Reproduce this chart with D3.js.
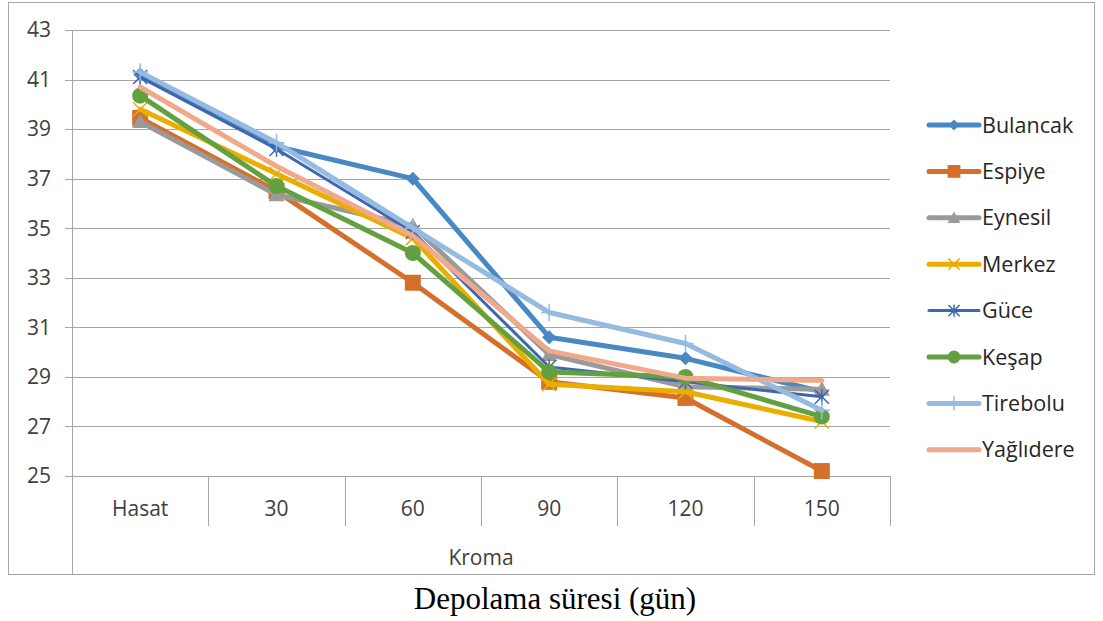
<!DOCTYPE html>
<html><head><meta charset="utf-8">
<script src="https://cdn.jsdelivr.net/npm/d3@7"></script>
<style>body{margin:0;background:#fff}svg{display:block}</style>
</head><body><svg id="c" width="1103" height="621"></svg>
<script>
const categories = ["Hasat","30","60","90","120","150"];
const yTicks = [25,27,29,31,33,35,37,39,41,43];
const seriesNames = ["Bulancak","Espiye","Eynesil","Merkez","Güce","Keşap","Tirebolu","Yağlıdere"];
const bulancak  = [41.2, 38.3, 37.0, 30.6, 29.75, 28.4];
const espiye    = [39.45, 36.5, 32.8, 28.8, 28.15, 25.2];
const eynesil   = [39.3, 36.35, 35.1, 29.9, 28.6, 28.5];
const merkez    = [39.8, 37.2, 34.6, 28.7, 28.4, 27.2];
const guce      = [41.1, 38.2, 34.85, 29.4, 28.8, 28.2];
const kesap     = [40.35, 36.7, 34.0, 29.2, 29.0, 27.4];
const tirebolu  = [41.3, 38.45, 35.0, 31.6, 30.35, 27.65];
const yaglidere = [40.7, 37.5, 34.7, 30.05, 28.95, 28.85];
const seriesValues = [bulancak, espiye, eynesil, merkez, guce, kesap, tirebolu, yaglidere];
const colors = ["#4a88c3","#d4702b","#9a9a9a","#e9ae00","#3d66b3","#62a040","#95bbe1","#f1a98c"];
const markers = ["diamond","square","triangle","x","star","circle","plus","none"];
const widths = [5,5,5,5,3,5,5,5];

const FONT = "'Open Sans', Lato, sans-serif";
const svg = d3.select("#c");
const L = 72, R = 890, T = 30, B = 476;
const x = d3.scaleBand().domain(categories).range([L, R]).padding(0);
const y = d3.scaleLinear().domain([25, 43]).range([B, T]);

// outer frame
svg.append("rect").attr("x",8.5).attr("y",2.5).attr("width",1086).attr("height",572)
  .attr("fill","none").attr("stroke","#a6a6a6").attr("stroke-width",1);

// gridlines
svg.append("g").selectAll("line").data(yTicks).join("line")
  .attr("x1", L - 7).attr("x2", R).attr("y1", d => Math.round(y(d))+0.5).attr("y2", d => Math.round(y(d))+0.5)
  .attr("stroke", "#a6a6a6").attr("stroke-width", 1);
svg.append("g").selectAll("text").data(yTicks).join("text")
  .attr("x", 51).attr("y", d => y(d)).attr("dy","0.35em").attr("text-anchor","end")
  .attr("font-family",FONT).attr("font-size",21).attr("fill","#404040")
  .text(d => d);

// vertical axis line
svg.append("line").attr("x1",L+0.5).attr("x2",L+0.5).attr("y1",T).attr("y2",575).attr("stroke","#a6a6a6");
// category dividers
const divs = categories.map(c => x(c) + x.bandwidth());
svg.append("g").selectAll("line").data(divs).join("line")
  .attr("x1", d => Math.round(d)+0.5).attr("x2", d => Math.round(d)+0.5).attr("y1", B).attr("y2", 526)
  .attr("stroke","#a6a6a6");
svg.append("g").selectAll("text").data(categories).join("text")
  .attr("x", d => x(d) + x.bandwidth()/2).attr("y", 509).attr("dy","0.35em").attr("text-anchor","middle")
  .attr("font-family",FONT).attr("font-size",21).attr("fill","#404040")
  .text(d => d);
svg.append("text").attr("x",(L+R)/2).attr("y",558).attr("dy","0.35em").attr("text-anchor","middle")
  .attr("font-family",FONT).attr("font-size",21).attr("fill","#404040").text("Kroma");
svg.append("text").attr("x",555).attr("y",598).attr("dy","0.35em").attr("text-anchor","middle")
  .attr("font-family","'Liberation Serif', 'Times New Roman', serif").attr("font-size",31).attr("fill","#000").text("Depolama süresi (gün)");

function drawMarker(g, type, cx, cy, color, scale) {
  const s = scale || 1;
  if (type === "diamond") {
    const r = 7*s;
    g.append("path").attr("d",`M${cx},${cy-r}L${cx+r},${cy}L${cx},${cy+r}L${cx-r},${cy}Z`).attr("fill",color);
  } else if (type === "square") {
    const r = 8*s;
    g.append("rect").attr("x",cx-r).attr("y",cy-r).attr("width",2*r).attr("height",2*r).attr("fill",color);
  } else if (type === "triangle") {
    const r = 8*s;
    g.append("path").attr("d",`M${cx},${cy-r}L${cx+r},${cy+r*0.8}L${cx-r},${cy+r*0.8}Z`).attr("fill",color);
  } else if (type === "x") {
    const r = 7*s;
    g.append("path").attr("d",`M${cx-r},${cy-r}L${cx+r},${cy+r}M${cx-r},${cy+r}L${cx+r},${cy-r}`).attr("stroke",color).attr("stroke-width",1.5);
  } else if (type === "star") {
    const r = 7*s;
    g.append("path").attr("d",`M${cx-r},${cy-r}L${cx+r},${cy+r}M${cx-r},${cy+r}L${cx+r},${cy-r}M${cx},${cy-r*1.1}L${cx},${cy+r*1.1}`).attr("stroke",color).attr("stroke-width",1.5);
  } else if (type === "circle") {
    g.append("circle").attr("cx",cx).attr("cy",cy).attr("r",8*s).attr("fill",color);
  } else if (type === "plus") {
    const r = 8*s;
    g.append("path").attr("d",`M${cx},${cy-r*1.1}L${cx},${cy+r*1.1}M${cx-r},${cy}L${cx+r},${cy}`).attr("stroke",color).attr("stroke-width",1.5);
  }
}

const line = d3.line().x((d,i) => x(categories[i]) + x.bandwidth()/2).y(d => y(d));
seriesValues.forEach((vals, si) => {
  const g = svg.append("g");
  g.append("path").datum(vals).attr("d", line).attr("fill","none")
    .attr("stroke", colors[si]).attr("stroke-width", widths[si]).attr("stroke-linejoin","round").attr("stroke-linecap","round");
  vals.forEach((v,i) => drawMarker(g, markers[si], x(categories[i]) + x.bandwidth()/2, y(v), colors[si]));
});

// legend
const legY0 = 125, legStep = 46.4;
seriesNames.forEach((n, si) => {
  const g = svg.append("g");
  const ly = legY0 + si*legStep;
  g.append("line").attr("x1",929).attr("x2",979).attr("y1",ly).attr("y2",ly)
    .attr("stroke",colors[si]).attr("stroke-width",widths[si]).attr("stroke-linecap","round");
  drawMarker(g, markers[si], 954, ly, colors[si], 0.8);
  g.append("text").attr("x",982).attr("y",ly).attr("dy","0.35em")
    .attr("font-family",FONT).attr("font-size",21.5).attr("fill","#262626").text(n);
});
</script></body></html>
